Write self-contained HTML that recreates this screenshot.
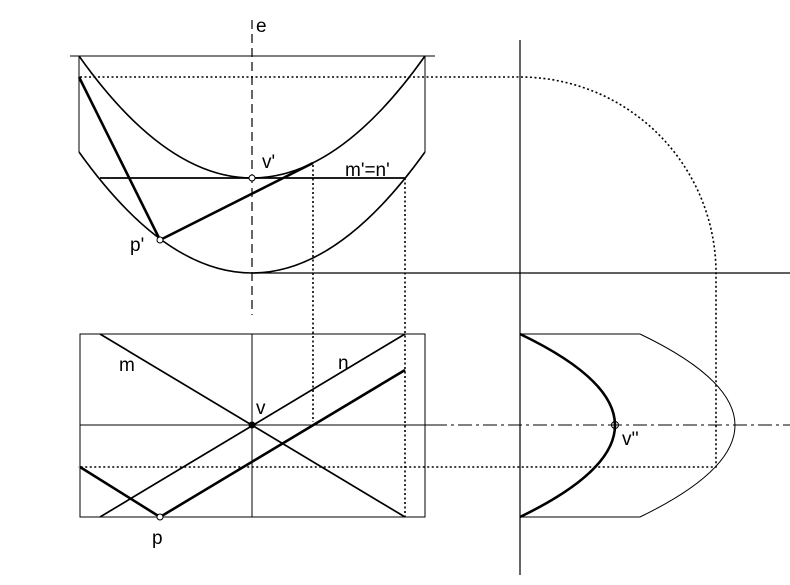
<!DOCTYPE html>
<html><head><style>body{margin:0;background:#fff}svg{display:block}text{font-family:"Liberation Sans",sans-serif;font-size:19px;fill:#000}</style></head>
<body>
<svg width="790" height="585" viewBox="0 0 790 585" xmlns="http://www.w3.org/2000/svg">
<g fill="none" stroke="#000">
<line x1="70" y1="56" x2="435" y2="56" stroke-width="1"/>
<line x1="79" y1="56" x2="79" y2="152" stroke-width="1"/>
<line x1="425" y1="56" x2="425" y2="152" stroke-width="1"/>
<path d="M79 56 Q252 300 425 56" stroke-width="1.6"/>
<path d="M79 152 Q252 394 425 152" stroke-width="1.6"/>
<line x1="100" y1="178" x2="405" y2="178" stroke-width="1.8"/>
<line x1="252" y1="273" x2="790" y2="273" stroke-width="1.2"/>
<line x1="252" y1="20" x2="252" y2="315" stroke-width="1.2" stroke-dasharray="9,5"/>
<line x1="79" y1="77" x2="160" y2="240" stroke-width="2.6"/>
<line x1="160" y1="240" x2="313" y2="163" stroke-width="2.6"/>
<path d="M80 77 L520 77 A196 196 0 0 1 716 273 L716 467 L78 467" stroke-width="1.6" stroke-dasharray="2,2.5"/>
<line x1="313" y1="165" x2="313" y2="422" stroke-width="1.6" stroke-dasharray="2,2.5"/>
<line x1="405" y1="178" x2="405" y2="517" stroke-width="1.6" stroke-dasharray="2,2.5"/>
<rect x="80" y="334" width="345" height="183" stroke-width="1"/>
<line x1="252" y1="334" x2="252" y2="517" stroke-width="1"/>
<line x1="80" y1="425" x2="433" y2="425" stroke-width="1"/>
<line x1="433" y1="425" x2="790" y2="425" stroke-width="1" stroke-dasharray="14,4,3,4"/>
<line x1="100" y1="334" x2="405" y2="517" stroke-width="1.7"/>
<line x1="100" y1="517" x2="405" y2="334" stroke-width="1.7"/>
<line x1="160" y1="517" x2="405" y2="370" stroke-width="2.6"/>
<line x1="80" y1="467" x2="160" y2="517" stroke-width="2.6"/>
<line x1="520" y1="40" x2="520" y2="575" stroke-width="1.2"/>
<line x1="520" y1="334" x2="640" y2="334" stroke-width="1"/>
<line x1="520" y1="517" x2="640" y2="517" stroke-width="1"/>
<path d="M640 334 Q830 425 640 517" stroke-width="1"/>
<path d="M520 334 Q710 425 520 517" stroke-width="2.6"/>
<circle cx="252" cy="178" r="3" fill="#fff" stroke-width="1"/>
<circle cx="160" cy="240" r="3" fill="#fff" stroke-width="1"/>
<circle cx="252" cy="425" r="3" fill="#000" stroke-width="1"/>
<circle cx="160" cy="517" r="3" fill="#fff" stroke-width="1"/>
<circle cx="615" cy="425" r="3.5" fill="none" stroke-width="1"/>
</g>
<text x="256" y="32">e</text>
<text x="262" y="168">v'</text>
<text x="345" y="176">m'=n'</text>
<text x="130" y="251">p'</text>
<text x="119" y="371">m</text>
<text x="338" y="369">n</text>
<text x="256" y="414">v</text>
<text x="152" y="544">p</text>
<text x="622" y="445">v''</text>
</svg>
</body></html>
